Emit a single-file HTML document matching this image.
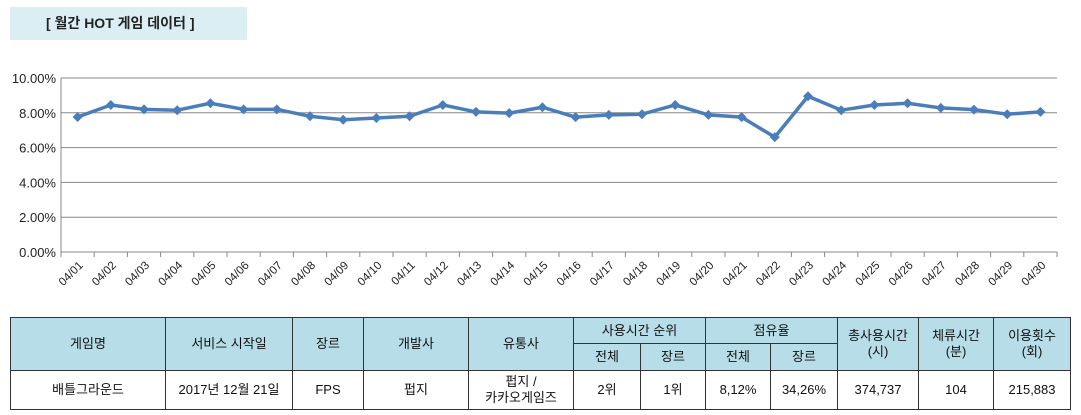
<!DOCTYPE html>
<html><head><meta charset="utf-8"><style>
body{margin:0;width:1081px;height:415px;background:#fff;font-family:"Liberation Sans","Noto Sans CJK KR",sans-serif;position:relative;overflow:hidden}
.title{position:absolute;left:10px;top:7px;width:237px;height:33px;background:#daeef3;font-weight:bold;font-size:14px;line-height:33px;color:#222;box-sizing:border-box;padding-left:36px}
table{position:absolute;left:10px;top:317px;border-collapse:collapse;font-size:13px;color:#111;table-layout:fixed}
td{border:1px solid #333;text-align:center;padding:0;line-height:16px}
.h{background:#b7dde8}
</style></head><body>
<div class="title">[ 월간 HOT 게임 데이터 ]</div>
<svg id="chart" width="1081" height="310" style="position:absolute;left:0;top:0"></svg>
<table>
<colgroup><col style="width:155px"><col style="width:127px"><col style="width:71px"><col style="width:105px"><col style="width:105px"><col style="width:67px"><col style="width:65px"><col style="width:65px"><col style="width:67px"><col style="width:81px"><col style="width:75px"><col style="width:77px"></colgroup>
<tr style="height:26px"><td class="h" rowspan="2">게임명</td><td class="h" rowspan="2">서비스 시작일</td><td class="h" rowspan="2">장르</td><td class="h" rowspan="2">개발사</td><td class="h" rowspan="2">유통사</td><td class="h" colspan="2">사용시간 순위</td><td class="h" colspan="2">점유율</td><td class="h" rowspan="2">총사용시간<br>(시)</td><td class="h" rowspan="2">체류시간<br>(분)</td><td class="h" rowspan="2">이용횟수<br>(회)</td></tr>
<tr style="height:27px"><td class="h">전체</td><td class="h">장르</td><td class="h">전체</td><td class="h">장르</td></tr>
<tr style="height:39px"><td>배틀그라운드</td><td>2017년 12월 21일</td><td>FPS</td><td>펍지</td><td>펍지 /<br>카카오게임즈</td><td>2위</td><td>1위</td><td>8,12%</td><td>34,26%</td><td>374,737</td><td>104</td><td>215,883</td></tr>
</table>
<script>
const categories=["04/01","04/02","04/03","04/04","04/05","04/06","04/07","04/08","04/09","04/10","04/11","04/12","04/13","04/14","04/15","04/16","04/17","04/18","04/19","04/20","04/21","04/22","04/23","04/24","04/25","04/26","04/27","04/28","04/29","04/30"];
const values=[7.76,8.45,8.2,8.15,8.55,8.2,8.2,7.8,7.6,7.7,7.8,8.45,8.05,7.98,8.32,7.75,7.88,7.92,8.45,7.88,7.75,6.6,8.95,8.15,8.45,8.55,8.28,8.18,7.92,8.05];
const yTicks=[0,2,4,6,8,10];
const NS="http://www.w3.org/2000/svg",svg=document.getElementById('chart');
const L=61,R=1057,T=78,B=252;
const x=i=>L+(i+0.5)*(R-L)/categories.length;
const y=v=>B-(v/10)*(B-T);
function mk(t,a){const e=document.createElementNS(NS,t);for(const k in a)e.setAttribute(k,a[k]);svg.appendChild(e);return e;}
yTicks.forEach(v=>{
  const g=mk('line',{x1:L,x2:R,y1:y(v),y2:y(v),stroke:'#888','stroke-width':1});
  
  
  const t=mk('text',{x:L-5,y:y(v)+5,'text-anchor':'end','font-size':13,fill:'#222'});
  t.textContent=v.toFixed(2)+'%';
  
  
});
mk('line',{x1:L,x2:L,y1:T,y2:B,stroke:'#888'});
for(let i=0;i<=categories.length;i++){const xx=L+i*(R-L)/categories.length;mk('line',{x1:xx,x2:xx,y1:B,y2:B+5,stroke:'#888'});}
categories.forEach((c,i)=>{
  const t=mk('text',{x:x(i)+6,y:B+14,'text-anchor':'end','font-size':11.5,fill:'#222',transform:`rotate(-45 ${x(i)+6} ${B+14})`});
  t.textContent=c;
  
  
});
const p=mk('polyline',{points:values.map((v,i)=>x(i)+','+y(v)).join(' '),fill:'none',stroke:'#4a7ebb','stroke-width':3.5,'stroke-linejoin':'round'});


values.forEach((v,i)=>{
  const m=mk('path',{d:`M${x(i)},${y(v)-5}l5,5l-5,5l-5,-5z`,fill:'#4a7ebb'});
  
  
});
</script>
</body></html>
